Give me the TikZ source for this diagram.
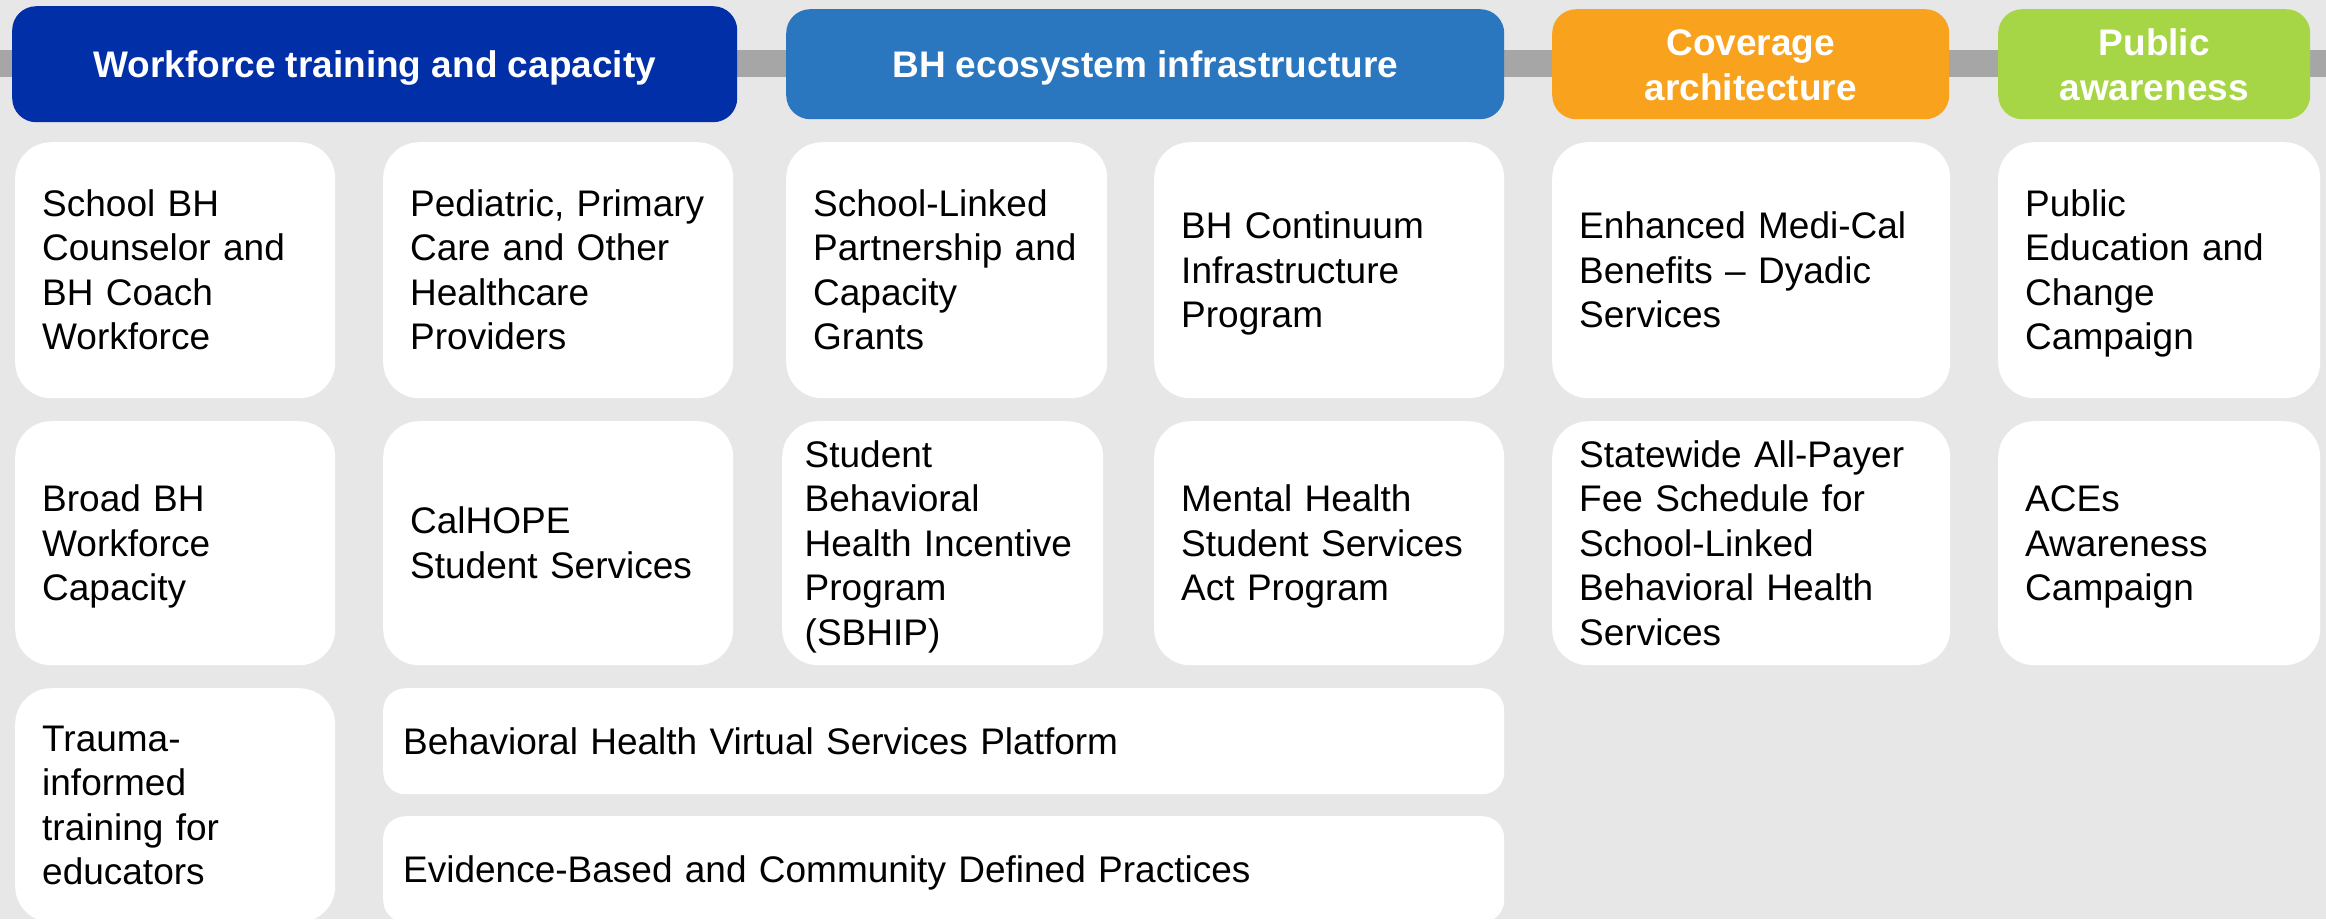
\documentclass[tikz,border=0pt]{standalone}
\usepackage{fontspec}
\setmainfont{Liberation Sans}
\usetikzlibrary{positioning}
\definecolor{wfblue}{HTML}{002FA7}
\definecolor{ecoblue}{HTML}{2A77C0}
\definecolor{covorange}{HTML}{F8A21E}
\definecolor{pubgreen}{HTML}{A6D646}
\definecolor{bggrey}{HTML}{E7E7E7}
\definecolor{bargrey}{HTML}{A6A6A6}
\newcommand\linestrut{\rule[-7.8pt]{0pt}{41.3pt}}

\begin{document}
\begin{tikzpicture}[x=1pt, y=-1pt,
            headtext/.style = {text=white, align=center, font=\fontsize{37}{45}\selectfont\bfseries,
                execute at begin node=\linestrut, execute at end node=\linestrut},
            head/.style = {headtext, anchor=north west, inner sep=0pt, rounded corners=24pt},
            cell/.style = {anchor=north west, fill=white, inner ysep=0pt, inner xsep=27pt,
                rounded corners=36pt, align=left, font=\fontsize{37}{44.5}\selectfont,
                execute at begin node=\linestrut, execute at end node=\linestrut},
            wide/.style = {cell, inner xsep=20pt, rounded corners=22pt}
            ]
            \useasboundingbox (0,0) rectangle (2326,919);
            \fill[bggrey] (0,0) rectangle (2326,919);
            \clip (0,0) rectangle (2326,919);
            % grey band behind the headers
            \fill[bargrey] (0,50) rectangle (2326,77);

            % column headers
            \node[head, fill=wfblue, minimum width=725pt, minimum height=116pt] (wfHead) at (12,6)
                {Workforce training and capacity};
            \node[head, fill=ecoblue, minimum width=718pt, minimum height=110pt] (ecoHead) at (786,9)
                {BH ecosystem infrastructure};
            \node[head, fill=covorange, minimum width=397pt, minimum height=110pt] (covHead) at (1552,9) {};
            \node[headtext, yshift=-4.5pt] (covLabel) at (covHead.center) {Coverage\\architecture};
            \node[head, fill=pubgreen, minimum width=312pt, minimum height=110pt] (pubHead) at (1998,9) {};
            \node[headtext, yshift=-4.5pt] (pubLabel) at (pubHead.center) {Public\\awareness};

            % first row
            \node[cell, text width=266pt, minimum height=256pt] (wfSchool) at (15,142)
                {School BH\\Counselor and\\BH Coach\\Workforce};
            \node[cell, text width=296pt, minimum height=256pt] (wfPediatric) at (383,142)
                {Pediatric, Primary\\Care and Other\\Healthcare\\Providers};
            \node[cell, text width=267pt, minimum height=256pt] (ecoGrants) at (786,142)
                {School-Linked\\Partnership and\\Capacity\\Grants};
            \node[cell, text width=296pt, minimum height=256pt] (ecoContinuum) at (1154,142)
                {BH Continuum\\Infrastructure\\Program};
            \node[cell, text width=344pt, minimum height=256pt] (covDyadic) at (1552,142)
                {Enhanced Medi-Cal\\Benefits -- Dyadic\\Services};
            \node[cell, text width=268pt, minimum height=256pt] (pubCampaign) at (1998,142)
                {Public\\Education and\\Change\\Campaign};

            % second row
            \node[cell, text width=266pt, minimum height=244pt] (wfBroad) at (15,421)
                {Broad BH\\Workforce\\Capacity};
            \node[cell, text width=296pt, minimum height=244pt] (wfCalhope) at (383,421)
                {CalHOPE\\Student Services};
            \node[cell, inner xsep=22.5pt, text width=276pt, minimum height=244pt] (ecoSbhip) at (782,421)
                {Student\\Behavioral\\Health Incentive\\Program\\(SBHIP)};
            \node[cell, text width=296pt, minimum height=244pt] (ecoMhssa) at (1154,421)
                {Mental Health\\Student Services\\Act Program};
            \node[cell, text width=344pt, minimum height=244pt] (covFee) at (1552,421)
                {Statewide All-Payer\\Fee Schedule for\\School-Linked\\Behavioral Health\\Services};
            \node[cell, text width=268pt, minimum height=244pt] (pubAces) at (1998,421)
                {ACEs\\Awareness\\Campaign};

            % third row
            \node[cell, text width=266pt, minimum height=234pt] (wfTrauma) at (15,688)
                {Trauma-\\informed\\training for\\educators};
            \node[wide, text width=1081pt, minimum height=106pt] (sharedVirtual) at (383,688)
                {Behavioral Health Virtual Services Platform};
            \node[wide, text width=1081pt, minimum height=106pt] (sharedEbp) at (383,816)
                {Evidence-Based and Community Defined Practices};
        \end{tikzpicture}
\end{document}
